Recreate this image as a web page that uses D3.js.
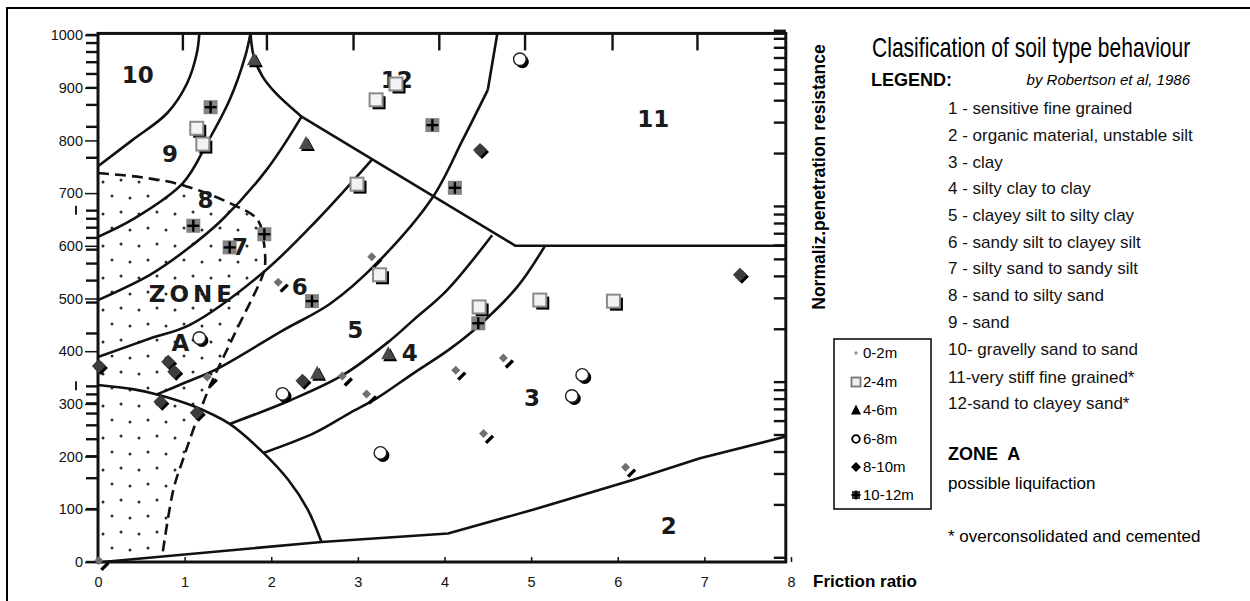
<!DOCTYPE html>
<html><head><meta charset="utf-8">
<script src="https://cdn.jsdelivr.net/npm/d3@7"></script>
<style>
html,body{margin:0;padding:0;background:#fff;}
svg{display:block;font-family:"Liberation Sans",Arial,Helvetica,sans-serif;}
</style></head><body>
<svg id="c" width="1250" height="601"></svg>
<script>
// ---------- data ----------
const frictionTicks = [0,1,2,3,4,5,6,7,8];
const resistanceTicks = [0,100,200,300,400,500,600,700,800,900,1000];
const depthNames = ["0-2m","2-4m","4-6m","6-8m","8-10m","10-12m"];
// [friction ratio, normalized penetration resistance]
const depth0_2  = [[0.01,3],[1.26,351],[2.08,531],[2.82,353],[3.10,319],[3.16,579],[4.13,364],[4.45,244],[4.68,387],[6.09,180]];
const depth2_4  = [[1.14,823],[1.21,793],[2.99,717],[3.21,877],[3.44,907],[3.25,545],[4.40,484],[5.10,497],[5.95,495]];
const depth4_6  = [[1.80,954],[2.40,795],[2.53,359],[3.35,396]];
const depth6_8  = [[4.87,954],[1.17,425],[2.13,319],[3.26,207],[5.59,355],[5.47,315]];
const depth8_10 = [[4.41,782],[7.41,545],[0.01,372],[0.81,380],[0.88,361],[0.72,304],[1.14,283],[2.36,344]];
const depth10_12= [[1.30,863],[1.10,638],[1.52,597],[1.92,622],[2.47,495],[4.39,453],[3.86,829],[4.12,710]];

// zone boundaries of the Robertson et al. (1986) chart
const bnd10_9 = [[0,751],[0.4,801],[0.8,852],[1.03,909],[1.14,965],[1.17,1003]];
const bnd9_8  = [[0,617],[0.4,650],[0.98,719],[1.26,795],[1.52,877],[1.70,960],[1.76,1003]];
const bnd8_7  = [[0,497],[0.6,545],[1.0,590],[1.43,649],[1.95,745],[2.35,845]];
const bnd7_6  = [[0,389],[0.6,424],[1.06,450],[1.91,550],[2.53,649],[3.16,763]];
const bnd6_5  = [[0.68,318],[1.0,340],[1.37,366],[2.14,440],[2.68,490],[3.22,567],[3.86,691],[4.21,801],[4.50,896]];
const bnd12_11= [[4.50,896],[4.61,1003]];
const bnd5_4  = [[1.52,262],[2.22,307],[2.83,355],[3.37,420],[3.64,459],[4.03,516],[4.55,620]];
const bnd4_3  = [[1.91,207],[2.5,245],[2.91,283],[3.22,311],[3.64,358],[4.06,404],[4.38,446],[4.84,522],[5.16,600]];
const bnd1    = [[0,336],[0.4,328],[0.68,318],[1.1,296],[1.52,262],[1.91,207],[2.2,155],[2.42,100],[2.58,38]];
const bnd2    = [[0.05,0],[2.58,38],[4.04,54],[5.02,99],[6.18,156],[6.95,197],[7.94,238]];
const bndCusp = [[1.76,1003],[1.80,958],[1.90,921],[2.05,890],[2.35,845]];
const bndDiag = [[2.35,845],[4.82,600],[7.94,600]];
const zoneA   = [[0.0,738],[0.5,730],[0.98,715],[1.56,678],[1.84,650],[1.91,611],[1.93,567],[1.91,548],[1.56,427],[1.26,321],[0.98,194],[0.87,137],[0.74,10]];

const zoneNames = ["10","9","8","7","6","5","4","3","2","11","12","ZONE","A"];
const zoneX     = [0.46,0.83,1.24,1.64,2.33,2.97,3.60,5.01,6.59,6.41,3.45,1.09,0.95];
const zoneY     = [924,774,687,598,522,440,397,311,68,842,915,510,417];

// ticks of the scanned chart frame
const scanTopTicks = [0.98,1.95,2.95,3.94,4.93,5.94,6.92];
const scanLogSteps = [1,2,3,4,5,6,7,8,9];
const scanCycles = [0,333.3,666.7];
const frameRight = 7.94, frameTop = 1003;

const soilNames = ["1 - sensitive fine grained","2 - organic material, unstable silt","3 - clay","4 - silty clay to clay",
 "5 - clayey silt to silty clay","6 - sandy silt to clayey silt","7 - silty sand to sandy silt","8 - sand to silty sand",
 "9 - sand","10- gravelly sand to sand","11-very stiff fine grained*","12-sand to clayey sand*"];
const chartTitle = "Clasification of soil type behaviour";
const xTitle = "Friction ratio";
const yTitle = "Normaliz.penetration resistance";

// ---------- drawing ----------
const svg = d3.select("#c");
const x = d3.scaleLinear().domain([0,8]).range([98,791]);
const y = d3.scaleLinear().domain([0,1000]).range([562,35]);
const P = d => [x(d[0]), y(d[1])];

// outer border
svg.append("rect").attr("x",7).attr("y",8).attr("width",1300).attr("height",700)
  .attr("fill","none").attr("stroke","#000").attr("stroke-width",2);

// dotted zone A
const defs = svg.append("defs");
const pat = defs.append("pattern").attr("id","dots").attr("patternUnits","userSpaceOnUse")
  .attr("width",36).attr("height",32);
[[4,4],[22,6],[13,20],[31,22]].forEach(p=>pat.append("circle").attr("cx",p[0]).attr("cy",p[1]).attr("r",1.5).attr("fill","#2a2a2a"));
const zoneApoly = [[0,0]].concat(zoneA);
svg.append("path").attr("d", d3.line().x(d=>x(d[0])).y(d=>y(d[1])).curve(d3.curveLinearClosed)(zoneApoly))
  .attr("fill","url(#dots)").attr("stroke","none");

const curve = d3.line().x(d=>x(d[0])).y(d=>y(d[1])).curve(d3.curveCatmullRom.alpha(0.5));
const straight = d3.line().x(d=>x(d[0])).y(d=>y(d[1]));
const lineStyle = s => s.attr("fill","none").attr("stroke","#111").attr("stroke-width",2.6).attr("stroke-linejoin","round");
[bnd10_9,bnd9_8,bnd8_7,bnd7_6,bnd6_5,bnd5_4,bnd4_3,bnd1,bndCusp].forEach(b=>{
  svg.append("path").attr("d",curve(b)).call(lineStyle);
});
[bnd12_11,bnd2,bndDiag].forEach(b=>{
  svg.append("path").attr("d",straight(b)).call(lineStyle);
});
svg.append("path").attr("d",curve(zoneA)).call(lineStyle).attr("stroke-dasharray","11,6");

// scanned frame
svg.append("rect").attr("x",x(0)).attr("y",y(frameTop)).attr("width",x(frameRight)-x(0)).attr("height",y(0)-y(frameTop))
  .attr("fill","none").attr("stroke","#111").attr("stroke-width",3);
const logTicks = [];
scanCycles.forEach(c=>scanLogSteps.forEach(k=>logTicks.push(c + 333.3*Math.log10(k))));
logTicks.push(1000);
svg.append("g").selectAll("line").data(logTicks).join("line")
  .attr("x1",x(0)-12).attr("x2",x(0)).attr("y1",d=>y(d)).attr("y2",d=>y(d))
  .attr("stroke","#111").attr("stroke-width",2.4);
svg.append("g").selectAll("line").data(logTicks).join("line")
  .attr("x1",x(frameRight)-12).attr("x2",x(frameRight)).attr("y1",d=>y(d+8)).attr("y2",d=>y(d+8))
  .attr("stroke","#111").attr("stroke-width",2.4);
svg.append("g").selectAll("line").data(scanCycles.slice(1)).join("line")
  .attr("x1",x(0)-22).attr("x2",x(0)-22).attr("y1",d=>y(d)-5).attr("y2",d=>y(d)+4)
  .attr("stroke","#222").attr("stroke-width",2);
svg.append("g").selectAll("line").data(scanTopTicks).join("line")
  .attr("x1",d=>x(d)).attr("x2",d=>x(d)).attr("y1",y(frameTop)).attr("y2",y(frameTop)+17)
  .attr("stroke","#111").attr("stroke-width",2.4);

// zone labels
svg.append("g").selectAll("text").data(zoneNames).join("text")
  .attr("x",(d,i)=>x(zoneX[i])).attr("y",(d,i)=>y(zoneY[i])).attr("dy","0.36em")
  .attr("text-anchor","middle")
  .style("font-family","'DejaVu Sans',sans-serif").style("font-weight","bold").style("font-size","23px")
  .style("letter-spacing",d=>d==="ZONE"?"4px":"0px").attr("fill","#1a1a1a").text(d=>d);

// axes
const gx = svg.append("g").attr("transform",`translate(0,${y(0)})`)
  .call(d3.axisBottom(x).tickValues(frictionTicks).tickFormat(d3.format("d")).tickSizeInner(-5).tickSizeOuter(0).tickPadding(15));
gx.select(".domain").remove();
gx.selectAll("line").attr("stroke","#111").attr("stroke-width",1.5);
gx.selectAll("text").style("font-size","14.5px").style("font-family","'Liberation Sans',Arial,sans-serif").attr("fill","#111");
const gy = svg.append("g").attr("transform",`translate(${x(0)},0)`)
  .call(d3.axisLeft(y).tickValues(resistanceTicks).tickFormat(d3.format("d")).tickSize(13).tickPadding(2));
gy.select(".domain").remove();
gy.selectAll("line").attr("stroke","#111").attr("stroke-width",1.5);
gy.selectAll("text").style("font-size","14.5px").style("font-family","'Liberation Sans',Arial,sans-serif").attr("fill","#111");

// markers
const markers = [
  g => { g.append("line").attr("x1",2.5).attr("y1",9.5).attr("x2",9.5).attr("y2",2.5).attr("stroke","#000").attr("stroke-width",3.4);
         g.append("path").attr("d","M0,-4.5L4.5,0L0,4.5L-4.5,0Z").attr("fill","#707070"); },
  g => { g.append("rect").attr("x",-3.5).attr("y",-3.5).attr("width",13).attr("height",13).attr("fill","#000");
         g.append("rect").attr("x",-6.5).attr("y",-6.5).attr("width",13).attr("height",13).attr("fill","#f2f2f2").attr("stroke","#8a8a8a").attr("stroke-width",2); },
  g => { g.append("path").attr("d","M2,-5L9,8L-5,8Z").attr("fill","#000");
         g.append("path").attr("d","M0,-7L7,6L-7,6Z").attr("fill","#4a4a4a"); },
  g => { g.append("circle").attr("cx",2.5).attr("cy",2.5).attr("r",6.5).attr("fill","#000");
         g.append("circle").attr("r",6.3).attr("fill","#fff").attr("stroke","#222").attr("stroke-width",1.4); },
  g => { g.append("path").attr("d","M2,-5L9,2L2,9L-5,2Z").attr("fill","#000");
         g.append("path").attr("d","M0,-7L7,0L0,7L-7,0Z").attr("fill","#3c3c3c"); },
  g => { g.append("rect").attr("x",-7).attr("y",-7).attr("width",14).attr("height",14).attr("fill","#848484");
         g.append("line").attr("x1",-6).attr("x2",6).attr("y1",0).attr("y2",0).attr("stroke","#000").attr("stroke-width",2.4);
         g.append("line").attr("y1",-6).attr("y2",6).attr("x1",0).attr("x2",0).attr("stroke","#000").attr("stroke-width",2.4); }
];
const allSeries = [depth0_2,depth2_4,depth4_6,depth6_8,depth8_10,depth10_12];
[1,3,2,4,5,0].forEach(si=>{
  svg.append("g").selectAll("g").data(allSeries[si]).join("g")
    .attr("transform",d=>`translate(${P(d)[0]},${P(d)[1]})`)
    .each(function(){ markers[si](d3.select(this)); });
});

// axis titles
svg.append("text").attr("transform","translate(819,177) rotate(-90)").attr("text-anchor","middle").attr("dy","0.35em")
  .style("font-weight","bold").style("font-size","17.5px").text(yTitle);
svg.append("text").attr("x",813).attr("y",581).attr("dy","0.35em")
  .style("font-weight","bold").style("font-size","17px").text(xTitle);

// title and soil legend
svg.append("text").attr("transform","translate(872,48) scale(0.78,1)").attr("dy","0.35em")
  .style("font-family","'Liberation Sans',Arial,sans-serif")
  .style("font-size","27px").text(chartTitle);
svg.append("text").attr("x",871).attr("y",80).attr("dy","0.35em").style("font-weight","bold").style("font-size","18px").text("LEGEND:");
svg.append("text").attr("x",1190).attr("y",80).attr("dy","0.35em").attr("text-anchor","end")
  .style("font-style","italic").style("font-size","15px").text("by Robertson et al, 1986");
const soilY = [108,135,162,188,215,242,268,295,322,349,377,403];
svg.append("g").selectAll("text").data(soilNames).join("text")
  .attr("x",948).attr("y",(d,i)=>soilY[i]).attr("dy","0.35em").style("font-size","17px").attr("fill","#111").text(d=>d);
svg.append("text").attr("x",948).attr("y",454).attr("dy","0.35em").style("font-weight","bold").style("font-size","18px")
  .style("white-space","pre").text("ZONE  A");
svg.append("text").attr("x",948).attr("y",483).attr("dy","0.35em").style("font-size","17px").text("possible liquifaction");
svg.append("text").attr("x",948).attr("y",536).attr("dy","0.35em").style("font-size","17px").text("* overconsolidated and cemented");

// depth legend
svg.append("rect").attr("x",834).attr("y",339).attr("width",97).attr("height",170).attr("fill","#fff").attr("stroke","#000").attr("stroke-width",1.5);
const legY = [353,382,410,439,467,495];
const legSym = [
  g => g.append("circle").attr("r",1.8).attr("fill","#999"),
  g => g.append("rect").attr("x",-4.5).attr("y",-4.5).attr("width",9).attr("height",9).attr("fill","#eee").attr("stroke","#777").attr("stroke-width",1.8),
  g => g.append("path").attr("d","M0,-5.5L5,4.5L-5,4.5Z").attr("fill","#000"),
  g => g.append("circle").attr("r",3.8).attr("fill","#fff").attr("stroke","#000").attr("stroke-width",1.8),
  g => g.append("path").attr("d","M0,-5L5,0L0,5L-5,0Z").attr("fill","#000"),
  g => { g.append("rect").attr("x",-4).attr("y",-4).attr("width",8).attr("height",8).attr("fill","#333");
         g.append("line").attr("x1",-4.5).attr("x2",4.5).attr("stroke","#000").attr("stroke-width",2);
         g.append("line").attr("y1",-4.5).attr("y2",4.5).attr("stroke","#000").attr("stroke-width",2); }
];
depthNames.forEach((n,i)=>{
  const g = svg.append("g").attr("transform",`translate(856,${legY[i]})`);
  legSym[i](g);
  svg.append("text").attr("x",863).attr("y",legY[i]).attr("dy","0.35em").style("font-size","15px").text(n);
});
</script>
</body></html>
